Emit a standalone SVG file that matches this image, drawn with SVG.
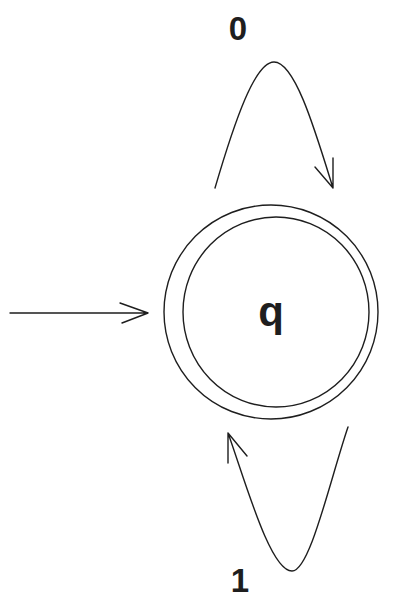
<svg xmlns="http://www.w3.org/2000/svg" width="403" height="614" viewBox="0 0 403 614">
<style>
.s{fill:none;stroke:#1e1e1e;stroke-width:1.4;stroke-linecap:round;stroke-linejoin:round}
.t{font-family:"Liberation Sans",Arial,sans-serif;font-weight:bold;fill:#1e1e1e;text-anchor:middle}
</style>
<rect width="403" height="614" fill="#fff"/>
<g id="node-q">
<ellipse class="s" cx="271" cy="312" rx="107" ry="107"/>
<ellipse class="s" cx="276" cy="312" rx="93" ry="95"/>
<text class="t" x="271" y="326" font-size="42">q</text>
</g>
<g id="connectors">
<path class="s" d="M10 313 L148 313 M120 303 L148 313 L122 323"/>
<path class="s" d="M215 188 C235 120 255 62 274 62 C295 62 315 130 333 188 M315 167 L333 188 L333 158"/>
<path class="s" d="M348 427 C330 480 310 571 292 571 C270 571 245 480 228 433 M228 463 L228 433 L247 456"/>
</g>
<g id="labels">
<text class="t" x="238" y="40" font-size="33">0</text>
<text class="t" x="240" y="592" font-size="33">1</text>
</g>
</svg>
